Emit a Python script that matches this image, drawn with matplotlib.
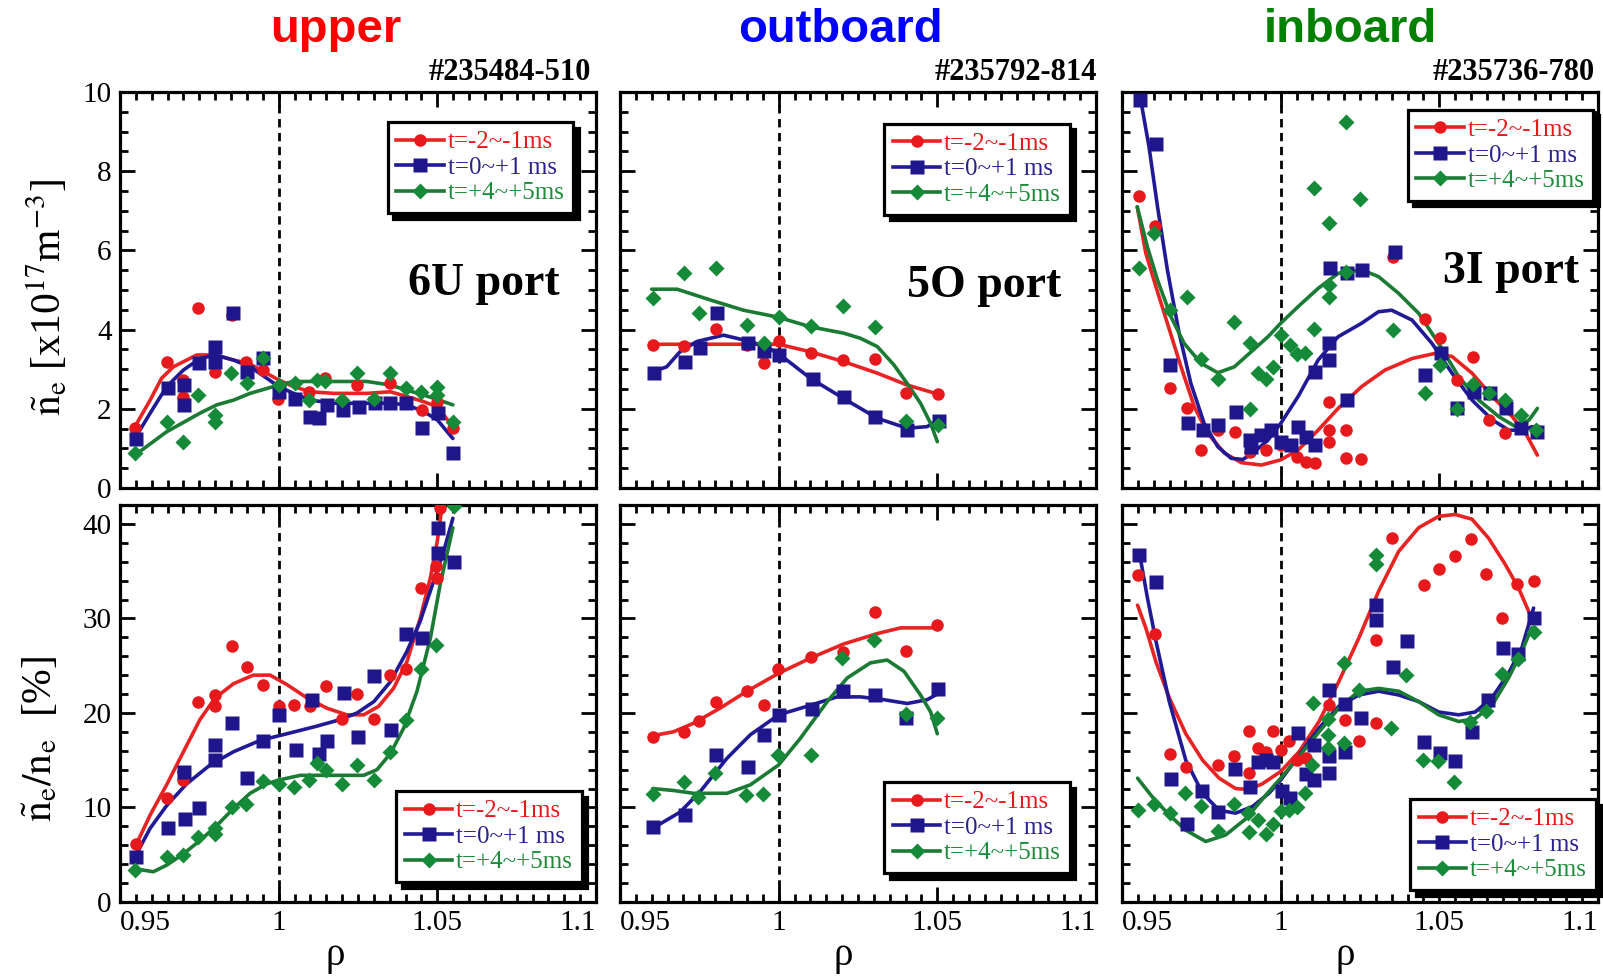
import matplotlib
matplotlib.use("Agg")
import matplotlib.pyplot as plt
from matplotlib.lines import Line2D
from matplotlib.ticker import MultipleLocator

SERIF = ["Liberation Serif", "DejaVu Serif"]
plt.rcParams["font.family"] = SERIF
plt.rcParams["mathtext.fontset"] = "stix"

# ── data: (rho, value) ──
# upper (6U port), fluctuation amplitude
ua_red = [(0.9547, 1.51), (0.9647, 3.19), (0.970, 2.73), (0.970, 2.31), (0.9747, 4.55), (0.980, 2.94),
          (0.9852, 4.37), (0.9897, 3.19), (0.995, 2.98), (0.9997, 2.26), (1.0097, 2.43), (1.0147, 2.77),
          (1.0247, 2.60), (1.0352, 2.64), (1.0452, 1.97), (1.050, 2.18), (1.055, 1.51)]
ua_blue = [(0.955, 1.23), (0.9652, 2.52), (0.9703, 2.60), (0.9703, 2.10), (0.975, 3.15), (0.980, 3.57),
           (0.980, 3.19), (0.9856, 4.41), (0.990, 2.94), (0.9952, 3.28), (1.000, 2.43), (1.0052, 2.26),
           (1.010, 1.80), (1.0126, 1.76), (1.0152, 2.10), (1.0203, 1.97), (1.0252, 2.05), (1.0305, 2.14),
           (1.0352, 2.14), (1.040, 2.14), (1.0452, 1.51), (1.0501, 1.89), (1.055, 0.88)]
ua_green = [(0.9547, 0.88), (0.9647, 1.67), (0.970, 1.17), (0.9747, 2.35), (0.980, 1.84), (0.980, 1.67),
            (0.985, 2.90), (0.990, 2.64), (0.995, 3.28), (1.000, 2.60), (1.005, 2.64), (1.0097, 2.22),
            (1.012, 2.73), (1.0147, 2.70), (1.020, 2.22), (1.0247, 2.90), (1.030, 2.26), (1.035, 2.90),
            (1.040, 2.52), (1.045, 2.43), (1.050, 2.56), (1.050, 2.35), (1.055, 1.67)]
ua_red_fit = [(0.9547, 1.55), (0.9595, 2.22), (0.9631, 2.77), (0.9668, 3.06), (0.9742, 3.36), (0.980, 3.36),
              (0.9858, 3.23), (0.9905, 3.15), (0.9952, 2.94), (1.000, 2.73), (1.0047, 2.56), (1.010, 2.43),
              (1.0173, 2.39), (1.0278, 2.39), (1.0352, 2.43), (1.0404, 2.31), (1.0457, 2.18), (1.050, 2.05),
              (1.0549, 1.55)]
ua_blue_fit = [(0.9547, 1.25), (0.9595, 1.89), (0.9647, 2.56), (0.970, 2.98), (0.9752, 3.27), (0.980, 3.36),
               (0.9858, 3.23), (0.991, 3.06), (0.9963, 2.77), (1.000, 2.56), (1.0047, 2.39), (1.010, 2.22),
               (1.0173, 2.14), (1.0278, 2.14), (1.0352, 2.14), (1.0404, 2.10), (1.0457, 1.93), (1.050, 1.72),
               (1.0549, 1.25)]
ua_green_fit = [(0.9547, 0.83), (0.9647, 1.42), (0.9752, 1.89), (0.9805, 2.10), (0.9858, 2.22), (0.991, 2.39),
                (1.000, 2.60), (1.0047, 2.69), (1.0173, 2.69), (1.0278, 2.69), (1.0352, 2.60), (1.0404, 2.47),
                (1.0457, 2.35), (1.0549, 2.10)]

# upper (6U port), relative fluctuation [%]
ur_red = [(0.955, 6.1), (0.9647, 11.0), (0.970, 13.8), (0.970, 12.9), (0.9747, 21.2), (0.980, 21.9),
          (0.980, 20.7), (0.9852, 27.1), (0.990, 24.9), (0.995, 23.0), (1.000, 20.7), (1.0049, 20.8),
          (1.010, 20.7), (1.015, 22.9), (1.020, 19.4), (1.0247, 22.0), (1.030, 19.4), (1.035, 24.0),
          (1.040, 24.7), (1.045, 33.2), (1.0497, 35.5), (1.050, 34.3), (1.0507, 41.7)]
ur_blue = [(0.955, 4.8), (0.965, 7.8), (0.9703, 13.8), (0.9705, 8.8), (0.975, 9.9), (0.980, 16.6),
           (0.980, 15.0), (0.9854, 18.9), (0.990, 13.1), (0.9952, 17.0), (1.0002, 19.8), (1.0055, 16.1),
           (1.0105, 21.4), (1.0126, 15.7), (1.0152, 17.0), (1.0205, 22.1), (1.0249, 17.5), (1.030, 23.9),
           (1.0355, 18.2), (1.040, 28.3), (1.0452, 27.9), (1.0501, 39.6), (1.0501, 36.9), (1.0552, 36.0)]
ur_green = [(0.9547, 3.4), (0.9647, 4.8), (0.970, 5.0), (0.9747, 6.9), (0.980, 7.8), (0.980, 7.2),
            (0.9852, 10.1), (0.9896, 10.4), (0.995, 12.8), (1.000, 12.5), (1.0047, 12.2), (1.0097, 12.9),
            (1.012, 14.7), (1.015, 14.0), (1.020, 12.5), (1.0247, 14.5), (1.030, 12.9), (1.0352, 15.9),
            (1.040, 19.3), (1.0448, 24.7), (1.0497, 27.2), (1.0552, 41.9)]
ur_red_fit = [(0.955, 6.0), (0.9595, 9.2), (0.9647, 12.4), (0.970, 15.9), (0.9752, 19.3), (0.980, 21.6),
              (0.9858, 23.1), (0.992, 24.0), (0.9973, 24.0), (1.0026, 23.0), (1.0089, 21.6), (1.0152, 20.5),
              (1.0215, 19.8), (1.0268, 19.8), (1.0315, 20.7), (1.0362, 22.6), (1.0404, 25.4), (1.0446, 30.0),
              (1.0478, 34.3), (1.050, 38.2), (1.0515, 41.9)]
ur_blue_fit = [(0.955, 4.95), (0.9595, 7.8), (0.9647, 10.2), (0.971, 12.5), (0.9784, 14.5), (0.9858, 15.9),
               (0.9942, 17.1), (1.0026, 17.8), (1.012, 18.6), (1.0194, 19.3), (1.0247, 20.0), (1.030, 21.2),
               (1.0352, 23.3), (1.0404, 26.5), (1.0446, 29.7), (1.0488, 33.9), (1.052, 37.1), (1.0549, 40.6)]
ur_green_fit = [(0.955, 3.5), (0.9605, 3.2), (0.9647, 3.9), (0.970, 5.1), (0.9752, 6.5), (0.9805, 8.1),
                (0.9858, 9.9), (0.991, 11.5), (0.9963, 12.5), (1.000, 12.9), (1.0068, 13.4), (1.0173, 13.4),
                (1.0268, 13.4), (1.031, 14.0), (1.0352, 15.7), (1.0394, 18.4), (1.0436, 22.3), (1.0478, 27.9),
                (1.0509, 33.6), (1.0549, 39.6)]

# outboard (5O port), fluctuation amplitude
oa_red = [(0.9605, 3.61), (0.9703, 3.59), (0.9803, 4.01), (0.990, 3.61), (0.9955, 3.16), (1.000, 3.70),
          (1.0103, 3.42), (1.0203, 3.23), (1.0303, 3.25), (1.0402, 2.39), (1.0502, 2.37)]
oa_blue = [(0.9607, 2.90), (0.9706, 3.19), (0.9753, 3.53), (0.9805, 4.41), (0.9902, 3.65), (0.9955, 3.47),
           (1.0002, 3.36), (1.0107, 2.74), (1.0205, 2.31), (1.0305, 1.80), (1.0405, 1.46), (1.0505, 1.70)]
oa_green = [(0.9603, 4.81), (0.9703, 5.44), (0.9803, 5.55), (0.975, 4.43), (0.990, 4.12), (0.9955, 3.65),
            (1.0002, 4.31), (1.0103, 4.09), (1.0203, 4.60), (1.0303, 4.06), (1.0402, 1.68), (1.0502, 1.59)]
oa_red_fit = [(0.9605, 3.63), (1.000, 3.63), (1.010, 3.44), (1.0205, 3.19), (1.0311, 2.90), (1.0405, 2.60),
              (1.0502, 2.37)]
oa_blue_fit = [(0.9605, 2.94), (0.9647, 3.06), (0.9689, 3.44), (0.9742, 3.70), (0.9826, 3.86), (0.9889, 3.74),
               (0.9963, 3.57), (1.0026, 3.23), (1.010, 2.77), (1.0205, 2.26), (1.0311, 1.76), (1.0405, 1.51),
               (1.0468, 1.55), (1.0511, 1.76)]
oa_green_fit = [(0.960, 5.02), (0.968, 5.02), (0.9784, 4.75), (0.9889, 4.49), (1.000, 4.31), (1.010, 4.07),
                (1.0205, 3.91), (1.0258, 3.78), (1.0311, 3.57), (1.0363, 3.11), (1.0405, 2.64), (1.0447, 2.14),
                (1.0479, 1.63), (1.050, 1.17)]

# outboard (5O port), relative fluctuation [%]
or_red = [(0.9603, 17.5), (0.9702, 18.0), (0.9749, 19.1), (0.9802, 21.2), (0.990, 22.3), (0.9953, 20.8),
          (0.9998, 24.6), (1.0103, 25.9), (1.0203, 26.5), (1.0302, 30.7), (1.040, 26.6), (1.050, 29.3)]
or_blue = [(0.9605, 7.9), (0.9705, 9.2), (0.9803, 15.5), (0.9902, 14.3), (0.9955, 17.7), (1.0002, 19.8),
           (1.0105, 20.4), (1.0203, 22.3), (1.0303, 21.9), (1.0402, 19.5), (1.0502, 22.5)]
or_green = [(0.9603, 11.4), (0.9702, 12.7), (0.9747, 11.1), (0.980, 13.6), (0.9898, 11.3), (0.9951, 11.4),
            (0.9998, 15.5), (1.0102, 15.6), (1.020, 25.8), (1.030, 27.7), (1.040, 19.9), (1.0498, 19.5)]
or_red_fit = [(0.9603, 17.6), (0.9668, 18.0), (0.9731, 18.9), (0.9815, 20.5), (0.990, 22.3), (1.000, 24.2),
              (1.010, 25.8), (1.0205, 27.3), (1.0311, 28.4), (1.0384, 29.0), (1.050, 29.0)]
or_blue_fit = [(0.9603, 7.8), (0.9689, 9.5), (0.9753, 11.7), (0.9837, 15.2), (0.9911, 17.7), (1.000, 19.8),
               (1.0089, 20.7), (1.0184, 21.7), (1.0258, 21.7), (1.0332, 21.4), (1.0405, 21.0), (1.0468, 21.4),
               (1.0505, 22.1)]
or_green_fit = [(0.9603, 12.0), (0.9668, 11.8), (0.9731, 11.5), (0.9837, 11.5), (0.9911, 12.4), (1.000, 14.5),
                (1.0068, 17.3), (1.0153, 21.2), (1.0216, 23.7), (1.0289, 25.3), (1.0342, 25.6), (1.0395, 24.4),
                (1.0447, 21.9), (1.0479, 20.1), (1.050, 17.8)]

# inboard (3I port), fluctuation amplitude
ia_red = [(0.9552, 7.37), (0.9604, 6.62), (0.9652, 2.52), (0.9705, 2.01), (0.9749, 0.96), (0.9802, 1.46),
          (0.9857, 1.42), (0.9904, 0.92), (0.9955, 0.96), (1.000, 1.09), (1.005, 0.79), (1.0081, 0.66),
          (1.0108, 0.62), (1.0153, 1.46), (1.0153, 1.17), (1.0153, 2.18), (1.0206, 1.46), (1.0206, 0.75),
          (1.0252, 0.72), (1.0355, 5.84), (1.0456, 4.28), (1.0503, 3.78), (1.0556, 2.73), (1.0605, 3.32),
          (1.0656, 1.72), (1.0707, 1.40), (1.0756, 1.51), (1.0804, 1.46)]
ia_blue = [(0.9556, 9.80), (0.9607, 8.68), (0.9652, 3.11), (0.9707, 1.63), (0.9754, 1.46), (0.9804, 1.59),
           (0.9858, 1.93), (0.9902, 1.21), (0.9907, 1.04), (0.9939, 1.34), (0.997, 1.46), (1.0002, 1.17),
           (1.0034, 1.09), (1.0055, 1.55), (1.0081, 1.30), (1.0108, 1.09), (1.0108, 2.94), (1.0153, 3.65),
           (1.0153, 3.23), (1.0208, 2.22), (1.0157, 5.55), (1.0208, 5.42), (1.0255, 5.51), (1.0359, 5.97),
           (1.0456, 2.85), (1.0506, 3.40), (1.0556, 2.01), (1.0609, 2.43), (1.0661, 2.39), (1.0709, 2.01),
           (1.0756, 1.51), (1.0809, 1.42)]
ia_green = [(0.9552, 5.55), (0.9601, 6.43), (0.9652, 4.49), (0.9705, 4.83), (0.9749, 3.27), (0.9802, 2.74),
            (0.9854, 4.18), (0.9902, 3.65), (0.9902, 1.99), (0.9928, 2.90), (0.9955, 2.74), (0.9976, 3.06),
            (1.0002, 3.86), (1.0028, 3.61), (1.0052, 3.38), (1.0078, 3.40), (1.0105, 4.01), (1.0105, 7.57),
            (1.0153, 6.70), (1.0153, 5.13), (1.0153, 4.83), (1.0206, 9.25), (1.0206, 5.46), (1.025, 7.29),
            (1.0355, 3.99), (1.0456, 2.41), (1.0503, 3.11), (1.0556, 1.99), (1.0605, 2.63), (1.0656, 2.41),
            (1.0707, 2.22), (1.0756, 1.84), (1.0806, 1.46)]
ia_red_fit = [(0.9548, 7.10), (0.9575, 5.93), (0.9607, 5.08), (0.9643, 4.16), (0.9686, 3.06), (0.9728, 2.05),
              (0.977, 1.38), (0.9823, 0.88), (0.9876, 0.64), (0.9939, 0.58), (1.000, 0.71), (1.0055, 0.96),
              (1.0118, 1.46), (1.0181, 2.01), (1.0255, 2.56), (1.0329, 2.98), (1.0414, 3.27), (1.0487, 3.40),
              (1.054, 3.32), (1.0603, 2.90), (1.0667, 2.31), (1.073, 1.80), (1.0772, 1.38), (1.0809, 0.83)]
ia_blue_fit = [(0.9559, 9.80), (0.9585, 8.62), (0.9612, 7.10), (0.9643, 5.51), (0.968, 3.91), (0.9717, 2.64),
               (0.9759, 1.63), (0.9802, 1.04), (0.9844, 0.75), (0.9881, 0.72), (0.9918, 0.92), (0.996, 1.21),
               (1.000, 1.63), (1.0055, 2.31), (1.0118, 3.23), (1.0181, 3.82), (1.0255, 4.16), (1.0308, 4.45),
               (1.035, 4.49), (1.0414, 4.24), (1.0477, 3.65), (1.054, 2.90), (1.0603, 2.22), (1.0667, 1.72),
               (1.0719, 1.46), (1.0762, 1.46), (1.0793, 1.55)]
ia_green_fit = [(0.9548, 7.10), (0.958, 6.09), (0.9612, 5.25), (0.9654, 4.33), (0.9696, 3.65), (0.9749, 3.15),
                (0.9802, 2.91), (0.9854, 3.06), (0.9907, 3.44), (0.996, 3.82), (1.000, 4.16), (1.0055, 4.58),
                (1.0118, 5.04), (1.0181, 5.42), (1.0255, 5.51), (1.0308, 5.34), (1.0371, 4.92), (1.0435, 4.41),
                (1.0498, 3.65), (1.0561, 2.81), (1.0624, 2.22), (1.0688, 1.80), (1.074, 1.55), (1.0783, 1.72),
                (1.0809, 2.01)]

# inboard (3I port), relative fluctuation [%]
ir_red = [(0.9551, 34.6), (0.9604, 28.3), (0.9651, 15.7), (0.9701, 14.3), (0.9801, 14.5), (0.9853, 15.4),
          (0.990, 18.1), (0.990, 13.7), (0.9927, 16.3), (0.9953, 15.9), (0.9977, 18.1), (1.000, 16.1),
          (1.0026, 17.0), (1.0052, 15.0), (1.0079, 15.2), (1.0152, 20.8), (1.0152, 15.5), (1.0202, 19.3),
          (1.0246, 17.0), (1.0299, 18.9), (1.0299, 27.7), (1.0351, 38.5), (1.0451, 33.5), (1.0498, 35.2),
          (1.0548, 36.6), (1.0601, 38.4), (1.0648, 34.7), (1.0699, 30.0), (1.0746, 33.6), (1.0799, 34.0)]
ir_blue = [(0.9554, 36.7), (0.9607, 33.9), (0.9654, 13.0), (0.9704, 8.2), (0.9752, 11.7), (0.9804, 9.5),
           (0.9856, 14.1), (0.9903, 12.2), (0.9927, 14.8), (0.9953, 15.0), (0.9977, 14.8), (1.0003, 11.7),
           (1.0029, 11.0), (1.0056, 17.9), (1.0079, 13.5), (1.0105, 12.9), (1.0105, 16.6), (1.0152, 22.4),
           (1.0152, 15.4), (1.0152, 13.7), (1.0204, 21.0), (1.0204, 15.9), (1.0252, 19.5), (1.0301, 31.4),
           (1.0301, 29.8), (1.0398, 27.6), (1.0353, 24.9), (1.0451, 16.9), (1.0501, 15.8), (1.055, 14.9),
           (1.0603, 18.0), (1.0653, 21.4), (1.0702, 26.9), (1.0747, 26.2), (1.0797, 30.0)]
ir_green = [(0.9549, 9.7), (0.9602, 10.4), (0.9651, 9.4), (0.9699, 11.5), (0.9748, 10.2), (0.9801, 7.5),
            (0.9853, 10.4), (0.9898, 9.4), (0.990, 7.4), (0.9927, 8.7), (0.9953, 7.2), (0.9977, 8.3),
            (1.000, 9.6), (1.0026, 9.7), (1.0052, 10.1), (1.0077, 11.5), (1.010, 14.5), (1.0103, 21.1),
            (1.015, 19.4), (1.015, 17.7), (1.015, 16.3), (1.0199, 25.3), (1.0199, 16.8), (1.0246, 22.4),
            (1.0299, 36.7), (1.0299, 35.8), (1.0349, 18.4), (1.0396, 24.0), (1.0449, 15.0), (1.0496, 14.9),
            (1.0545, 12.7), (1.0597, 19.0), (1.0648, 20.2), (1.0697, 24.1), (1.0747, 25.7), (1.0797, 28.6)]
ir_red_fit = [(0.9549, 31.4), (0.9575, 29.0), (0.9607, 25.4), (0.9649, 21.6), (0.9701, 17.8), (0.9754, 15.0),
              (0.9806, 13.1), (0.9858, 12.0), (0.990, 11.9), (0.9942, 12.5), (1.000, 13.8), (1.0058, 15.9),
              (1.0121, 19.1), (1.0183, 23.3), (1.0246, 27.9), (1.0309, 32.9), (1.0372, 37.1), (1.0435, 39.6),
              (1.0498, 40.8), (1.055, 41.0), (1.0603, 40.5), (1.0655, 38.5), (1.0708, 35.7), (1.075, 33.2),
              (1.0786, 30.4)]
ir_blue_fit = [(0.9554, 37.1), (0.958, 32.2), (0.9607, 27.6), (0.9649, 21.2), (0.9701, 15.0), (0.9754, 11.5),
               (0.9806, 9.7), (0.9858, 9.4), (0.9911, 10.1), (0.9963, 11.5), (1.000, 12.9), (1.0058, 15.5),
               (1.0121, 18.4), (1.0183, 20.7), (1.0246, 21.9), (1.0309, 22.3), (1.0372, 21.9), (1.0435, 21.2),
               (1.0498, 20.1), (1.0561, 19.8), (1.0613, 20.1), (1.0666, 21.6), (1.0718, 24.2), (1.076, 26.9),
               (1.0797, 31.1)]
ir_green_fit = [(0.9549, 13.1), (0.9596, 11.1), (0.9649, 9.2), (0.9701, 7.6), (0.9764, 6.4), (0.9827, 7.1),
                (0.989, 8.8), (0.9953, 11.3), (1.000, 13.1), (1.0058, 15.4), (1.0121, 18.0), (1.0183, 20.5),
                (1.0246, 22.3), (1.0309, 22.6), (1.0372, 22.3), (1.0435, 21.2), (1.0498, 19.8), (1.0561, 19.1),
                (1.0613, 19.4), (1.0666, 20.8), (1.0718, 23.7), (1.076, 26.5), (1.0791, 29.0)]

series_labels = ["t=-2~-1ms", "t=0~+1 ms", "t=+4~+5ms"]
xtick_vals = [0.95, 1.0, 1.05, 1.1]
xtick_text = ["0.95", "1", "1.05", "1.1"]
titles = ["upper", "outboard", "inboard"]
shots = ["#235484-510", "#235792-814", "#235736-780"]
ports = ["6U port", "5O port", "3I port"]

# ── styles ──
MARK_COL = ["#e8191c", "#1f168c", "#158a38"]
LINE_COL = ["#e82323", "#211a96", "#1b7a33"]
TEXT_COL = ["#e8191c", "#2a2290", "#1d8c3a"]
MARKERS = ["o", "s", "D"]
MSIZE = [9, 9.5, 8]
TITLE_COL = ["#ff0000", "#0000ff", "#008000"]

W, H = 1603, 980
fig = plt.figure(figsize=(W / 100, H / 100), dpi=100)

lefts = [120, 620, 1122]
pw = 476
rows = [(92, 488), (505, 902)]

amp_data = [(ua_red, ua_blue, ua_green), (oa_red, oa_blue, oa_green), (ia_red, ia_blue, ia_green)]
amp_fits = [(ua_red_fit, ua_blue_fit, ua_green_fit), (oa_red_fit, oa_blue_fit, oa_green_fit),
            (ia_red_fit, ia_blue_fit, ia_green_fit)]
rel_data = [(ur_red, ur_blue, ur_green), (or_red, or_blue, or_green), (ir_red, ir_blue, ir_green)]
rel_fits = [(ur_red_fit, ur_blue_fit, ur_green_fit), (or_red_fit, or_blue_fit, or_green_fit),
            (ir_red_fit, ir_blue_fit, ir_green_fit)]

leg_top = [(0.952, 0.924), (0.945, 0.92), (0.99, 0.955)]
leg_bot = [(0.97, 0.05), (0.945, 0.073), (0.995, 0.03)]
port_pos = [(0.924, 0.487), (0.926, 0.482), (0.96, 0.518)]
title_x = [336, 840, 1350]
shot_right = [591, 1097, 1595]
rho_x = [0.452, 0.47, 0.468]


def draw_panel(ax, pts_sets, fit_sets, ylim, ymaj, ymin):
    for k in range(3):
        fx = [p[0] for p in fit_sets[k]]
        fy = [p[1] for p in fit_sets[k]]
        ax.plot(fx, fy, color=LINE_COL[k], lw=2.6, zorder=2, solid_capstyle="round")
    for k in range(3):
        px = [p[0] for p in pts_sets[k]]
        py = [p[1] for p in pts_sets[k]]
        ax.plot(px, py, ls="none", marker=MARKERS[k], ms=MSIZE[k], color=MARK_COL[k], mec="none", zorder=3)
    ax.axvline(1.0, color="k", lw=2, ls=(0, (3, 2)), zorder=1)
    ax.set_xlim(0.95, 1.1)
    ax.set_ylim(*ylim)
    ax.set_xticks(xtick_vals)
    ax.xaxis.set_minor_locator(MultipleLocator(0.005))
    ax.yaxis.set_major_locator(MultipleLocator(ymaj))
    ax.yaxis.set_minor_locator(MultipleLocator(ymin))
    ax.tick_params(which="both", direction="in", top=True, right=True, width=2, labelsize=21, pad=6)
    ax.tick_params(which="major", length=11)
    ax.tick_params(which="minor", length=6)
    for sp in ax.spines.values():
        sp.set_linewidth(2.3)


def set_tick_font(ax):
    for lab in ax.get_xticklabels() + ax.get_yticklabels():
        lab.set_family(SERIF)


def add_legend(ax, loc, anchor):
    handles = [Line2D([], [], color=LINE_COL[k], lw=2.6, marker=MARKERS[k], ms=MSIZE[k],
                      mfc=MARK_COL[k], mec="none") for k in range(3)]
    leg = ax.legend(handles, series_labels, loc=loc, bbox_to_anchor=anchor, fontsize=18,
                    frameon=True, fancybox=False, edgecolor="k", framealpha=1,
                    shadow={"ox": 4, "oy": -4, "facecolor": "k", "edgecolor": "k", "alpha": 1},
                    handlelength=1.9, handletextpad=0.15, labelspacing=0.12, borderpad=0.35,
                    borderaxespad=0)
    leg.get_frame().set_linewidth(2.3)
    leg.set_zorder(5)
    for t, c in zip(leg.get_texts(), TEXT_COL):
        t.set_color(c)


for col in range(3):
    # top row: amplitude
    t0, t1 = rows[0]
    ax = fig.add_axes([lefts[col] / W, 1 - t1 / H, pw / W, (t1 - t0) / H])
    draw_panel(ax, amp_data[col], amp_fits[col], (0, 10), 2, 0.5)
    ax.set_xticklabels([])
    if col == 0:
        ax.set_yticks([0, 2, 4, 6, 8, 10], labels=["0", "2", "4", "6", "8", "10"])
        ax.set_ylabel(r"$\tilde{\mathrm{n}}_{\mathrm{e}}$ [x10$^{17}$m$^{-3}$]", fontsize=30)
        ax.yaxis.set_label_coords(-0.153, 0.48)
        ax.yaxis.label.set_va("center")
    else:
        ax.set_yticklabels([])
    set_tick_font(ax)
    add_legend(ax, "upper right", leg_top[col])
    ax.text(port_pos[col][0], port_pos[col][1], ports[col], transform=ax.transAxes, ha="right",
            va="baseline", fontsize=33, fontweight="bold", family=SERIF, zorder=6)

    # bottom row: relative fluctuation
    b0, b1 = rows[1]
    ax2 = fig.add_axes([lefts[col] / W, 1 - b1 / H, pw / W, (b1 - b0) / H])
    draw_panel(ax2, rel_data[col], rel_fits[col], (0, 42), 10, 2)
    ax2.set_xticklabels(xtick_text)
    labs = ax2.get_xticklabels()
    labs[0].set_ha("left")
    labs[-1].set_ha("right")
    if col == 0:
        ax2.set_yticks([0, 10, 20, 30, 40], labels=["0", "10", "20", "30", "40"])
        ax2.set_ylabel(r"$\tilde{\mathrm{n}}_{\mathrm{e}}/\mathrm{n}_{\mathrm{e}}$  [%]", fontsize=30)
        ax2.yaxis.set_label_coords(-0.168, 0.41)
        ax2.yaxis.label.set_va("center")
    else:
        ax2.set_yticklabels([])
    set_tick_font(ax2)
    ax2.set_xlabel("ρ", fontsize=28, family=SERIF)
    ax2.xaxis.set_label_coords(rho_x[col], -0.134)
    ax2.xaxis.label.set_va("center")
    add_legend(ax2, "lower right", leg_bot[col])

    fig.text(title_x[col] / W, 1 - 42 / H, titles[col], ha="center", va="baseline", fontsize=34,
             fontweight="bold", family="Liberation Sans", color=TITLE_COL[col])
    fig.text(shot_right[col] / W, 1 - 80 / H, shots[col], ha="right", va="baseline", fontsize=22,
             fontweight="bold", family=SERIF)

fig.savefig("out.png", dpi=100)
